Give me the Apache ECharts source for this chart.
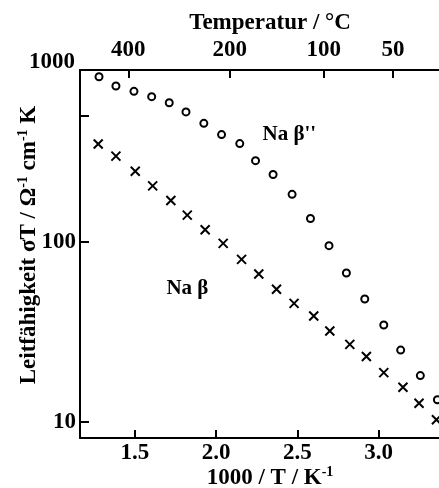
<!DOCTYPE html>
<html>
<head>
<meta charset="utf-8">
<script src="https://cdn.jsdelivr.net/npm/echarts@6/dist/echarts.min.js"></script>
<style>
  html, body { margin: 0; padding: 0; background: #fff; }
  #chart { width: 439px; height: 488px; }
</style>
</head>
<body>
<div id="chart"></div>
<script>
// Na beta'' (Kreise)
var betaTwoX = [1.279, 1.383, 1.494, 1.603, 1.711, 1.814, 1.924, 2.033, 2.145, 2.242,
  2.350, 2.467, 2.580, 2.694, 2.801, 2.914, 3.031, 3.135, 3.256, 3.361]
var betaTwoY = [828, 736, 687, 642, 594, 528, 456, 395, 352, 283,
  237, 184, 135, 95.4, 67.3, 48.2, 34.6, 25.1, 18.1, 13.3]
// Na beta (Kreuze)
var betaX = [1.274, 1.383, 1.502, 1.609, 1.721, 1.822, 1.932, 2.043, 2.156, 2.262,
  2.371, 2.479, 2.600, 2.699, 2.822, 2.924, 3.031, 3.149, 3.248, 3.355]
var betaY = [350, 300, 247, 205, 170, 141, 117, 98.3, 80.1, 66.4,
  54.6, 45.6, 38.8, 32.0, 27.0, 23.1, 18.8, 15.6, 12.7, 10.3]

// Achsen
var xTicks = [1.5, 2.0, 2.5, 3.0, 3.5]
var yTicks = [10, 100, 500]
var yLabels = [10, 100]
var tempLabels = [400, 200, 100, 50]
// Lage der °C-Striche auf der 1000/T-Skala, wie gezeichnet
var tempTickPos = [1.459, 2.084, 2.662, 3.088]

var font = 'Liberation Serif'
var fs = 23
var chart = echarts.init(document.getElementById('chart'))

function pairs(xs, ys) {
  return xs.map(function(x, i) { return [x, ys[i]] })
}

var sup = { fontSize: 14, fontWeight: 'bold', fontFamily: font, color: '#000', padding: [0, 0, 12, 0] }
var txt = { fontSize: fs, fontWeight: 'bold', fontFamily: font, color: '#000' }

var option = {
  backgroundColor: '#fff',
  animation: false,
  title: {
    text: '1000',
    right: 364,
    top: 51,
    padding: 0,
    textStyle: txt
  },
  grid: { left: 80, top: 70, bottom: 50, right: -21, outerBoundsMode: 'none', containLabel: false },
  xAxis: [
    {
      type: 'value',
      min: 1.162,
      max: 3.5,
      position: 'bottom',
      name: '1000 / T / K{s|-1}',
      nameLocation: 'middle',
      nameGap: 27,
      nameMoveOverlap: false,
      nameTextStyle: Object.assign({ rich: { s: sup } }, txt),
      axisLine: { show: true, onZero: false, lineStyle: { color: '#000', width: 2 } },
      axisTick: { show: true, inside: true, length: 8, customValues: xTicks, lineStyle: { color: '#000', width: 2 } },
      axisLabel: { customValues: xTicks, margin: 4, formatter: function(v) { return v.toFixed(1) }, fontSize: fs, fontWeight: 'bold', fontFamily: font, color: '#000' },
      splitLine: { show: false }
    },
    {
      type: 'value',
      min: 1.162,
      max: 3.5,
      position: 'top',
      name: 'Temperatur / °C',
      nameLocation: 'middle',
      nameGap: 35,
      nameMoveOverlap: false,
      nameTextStyle: txt,
      axisLine: { show: true, onZero: false, lineStyle: { color: '#000', width: 2 } },
      axisTick: { show: true, inside: true, length: 8, customValues: tempTickPos, lineStyle: { color: '#000', width: 2 } },
      axisLabel: {
        customValues: tempTickPos,
        margin: 8,
        formatter: function(v) {
          var best = 0
          tempTickPos.forEach(function(p, i) {
            if (Math.abs(p - v) < Math.abs(tempTickPos[best] - v)) best = i
          })
          return String(tempLabels[best])
        },
        fontSize: fs, fontWeight: 'bold', fontFamily: font, color: '#000'
      },
      splitLine: { show: false }
    }
  ],
  yAxis: {
    type: 'log',
    logBase: 10,
    min: 8.15,
    max: 902.5,
    name: 'Leitfähigkeit σT / Ω{s|-1} cm{s|-1} K',
    nameLocation: 'middle',
    nameGap: 38,
    nameMoveOverlap: false,
    nameRotate: 90,
    nameTextStyle: Object.assign({ rich: { s: sup }, padding: [0, 0, 0, 18] }, txt),
    axisLine: { show: true, onZero: false, lineStyle: { color: '#000', width: 2 } },
    axisTick: { show: true, inside: true, length: 9, customValues: yTicks, lineStyle: { color: '#000', width: 2 } },
    axisLabel: { customValues: yLabels, margin: 4, fontSize: fs, fontWeight: 'bold', fontFamily: font, color: '#000' },
    splitLine: { show: false },
    minorTick: { show: false }
  },
  series: [
    {
      name: 'Na β\'\'',
      type: 'scatter',
      symbol: 'circle',
      symbolSize: 7,
      itemStyle: { color: '#fff', borderColor: '#000', borderWidth: 2, opacity: 1 },
      data: pairs(betaTwoX, betaTwoY)
    },
    {
      name: 'Na β',
      type: 'scatter',
      symbol: 'path://M0,0L10,10M10,0L0,10',
      symbolSize: 9,
      itemStyle: { color: 'none', borderColor: '#000', borderWidth: 2, opacity: 1 },
      data: pairs(betaX, betaY)
    },
    {
      type: 'scatter',
      symbolSize: 0,
      silent: true,
      itemStyle: { opacity: 1 },
      label: {
        show: true,
        position: 'inside',
        formatter: '{b}',
        fontSize: 21, fontWeight: 'bold', fontFamily: font, color: '#000'
      },
      data: [
        { name: 'Na β\'\'', value: [2.45, 393] },
        { name: 'Na β', value: [1.823, 54.8] }
      ]
    }
  ]
}

chart.setOption(option)
</script>
</body>
</html>
